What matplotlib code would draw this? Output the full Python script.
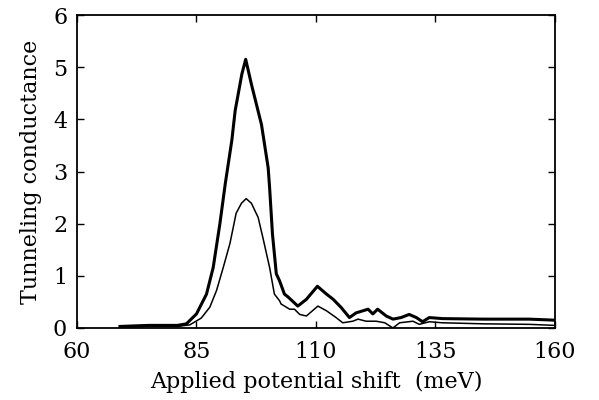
import matplotlib
matplotlib.use("Agg")
import matplotlib.pyplot as plt

# Thick curve (upper)
thick_x = [69, 72, 75, 78, 81, 82.9, 85.0, 87.1, 88.5, 89.9, 91.0, 92.4, 93.1, 94.5, 95.3,
           96.5, 98.6, 100.0, 100.3, 100.9, 101.7, 102.4, 103.4, 104.1, 106.2, 108.0,
           110.3, 112.2, 113.6, 115.3, 117.0, 118.4, 120.9, 121.9, 122.9, 124.7, 126.1,
           127.8, 129.5, 131.0, 132.3, 133.7, 136.5, 145, 154.6, 160]
thick_y = [0.03, 0.04, 0.05, 0.05, 0.05, 0.08, 0.27, 0.65, 1.16, 2.0, 2.75, 3.6, 4.17, 4.87, 5.15,
           4.67, 3.9, 3.07, 2.69, 1.8, 1.04, 0.9, 0.65, 0.6, 0.42, 0.55,
           0.8, 0.65, 0.55, 0.39, 0.2, 0.29, 0.36, 0.27, 0.36, 0.23, 0.17,
           0.2, 0.26, 0.2, 0.12, 0.2, 0.18, 0.17, 0.17, 0.15]

# Thin curve (lower)
thin_x = [69, 72, 75, 78, 81, 83.6, 86.0, 87.8, 89.2, 90.6, 92.0, 93.3, 94.4, 95.4, 96.5,
          97.9, 98.9, 100.3, 101.3, 102.4, 102.7, 104.5, 105.5, 106.6, 108.0, 110.4,
          112.2, 114.2, 115.6, 117.7, 118.8, 120.5, 122.6, 124.4, 126.1, 127.5, 130.3,
          131.6, 133.7, 136.4, 145, 154.6, 160]
thin_y = [0.02, 0.02, 0.03, 0.03, 0.03, 0.06, 0.19, 0.4, 0.72, 1.16, 1.62, 2.2, 2.39, 2.48, 2.39,
          2.12, 1.73, 1.16, 0.65, 0.52, 0.46, 0.36, 0.36, 0.26, 0.23, 0.42,
          0.33, 0.2, 0.1, 0.13, 0.17, 0.13, 0.13, 0.1, 0.0, 0.1, 0.13,
          0.07, 0.12, 0.1, 0.08, 0.07, 0.05]

x_ticks = [60, 85, 110, 135, 160]
y_ticks = [0, 1, 2, 3, 4, 5, 6]

plt.rcParams['font.family'] = ['DejaVu Serif']

fig = plt.figure(figsize=(5.99, 4.0), dpi=100)
ax = fig.add_axes([0.1285, 0.18, 0.798, 0.7825])

ax.plot(thick_x, thick_y, color='black', lw=2.2, solid_joinstyle='round')
ax.plot(thin_x, thin_y, color='black', lw=1.1, solid_joinstyle='round')

ax.set_xlim(60, 160)
ax.set_ylim(0, 6)
ax.set_xticks(x_ticks)
ax.set_yticks(y_ticks)
ax.tick_params(direction='in', top=True, right=True, length=5, width=1,
               labelsize=16)
ax.tick_params(axis='x', pad=9)
ax.tick_params(axis='y', pad=7)
for s in ax.spines.values():
    s.set_linewidth(1.3)

ax.set_xlabel('Applied potential shift  (meV)', fontsize=16, labelpad=6)
ax.set_ylabel('Tunneling conductance', fontsize=16, labelpad=8)

fig.savefig('out.png', dpi=100)
